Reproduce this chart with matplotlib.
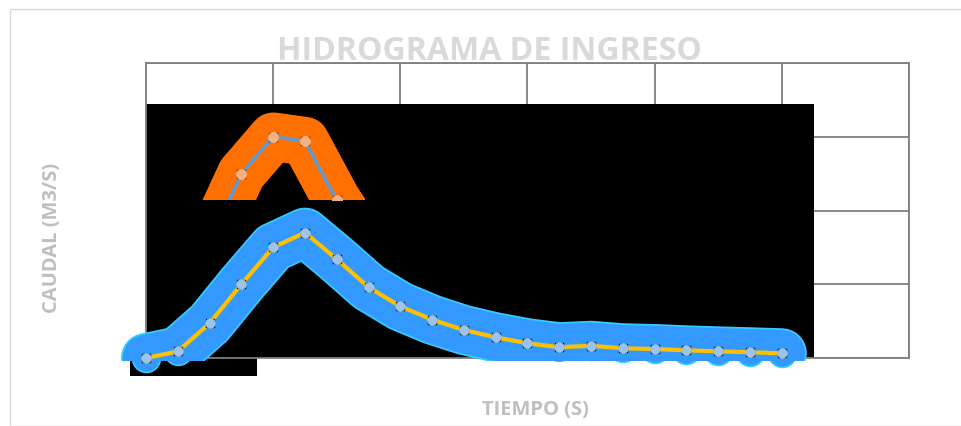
import matplotlib.pyplot as plt
from matplotlib.patches import Rectangle

# datos (tiempo en intervalos, caudal en m3/s)
tiempo = list(range(21))
caudal = [0.0, 0.45, 2.35, 5.0, 7.5, 8.5, 6.7, 4.8, 3.5, 2.6, 1.9,
          1.4, 1.0, 0.73, 0.83, 0.66, 0.61, 0.52, 0.45, 0.39, 0.32]

# serie naranja (solo se ve un trozo)
tiempo_b = [0, 1, 2, 3, 4, 5, 6, 7, 8]
caudal_b = [0.0, 2.5, 7.8, 12.5, 15.0, 14.7, 10.7, 7.5, 5.5]

x_ticks = [0, 4, 8, 12, 16, 20, 24]
y_ticks = [0, 5, 10, 15, 20]

fig = plt.figure(figsize=(9.62, 4.27), dpi=100)
fig.patches.append(Rectangle((10 / 962, 0.0), 1.0, 1 - 10 / 427, transform=fig.transFigure,
                             fill=False, edgecolor="#d9d9d9", linewidth=1.0))

ax = fig.add_axes([146 / 962, 1 - 359 / 427, (909 - 146) / 962, (359 - 64) / 427])
ax.set_xlim(0, 24)
ax.set_ylim(0, 20)
ax.set_xticks(x_ticks)
ax.set_yticks(y_ticks)
ax.tick_params(length=0, labelleft=False, labelbottom=False)
ax.grid(True, color="#7f7f7f", linewidth=1.3)
for s in ax.spines.values():
    s.set_color("#7f7f7f")
    s.set_linewidth(1.3)
ax.set_axisbelow(True)

# fondo negro del area de trazado (artefacto del original)
ax.add_patch(Rectangle((0, 0), 21, 17.2, facecolor="black", edgecolor="none", zorder=1))
ax.add_patch(Rectangle((-0.5, -1.2), 4.0, 1.2, facecolor="black", edgecolor="none",
                       zorder=1, clip_on=False))


def marcadores(x, y, cara, z):
    # circulo con las esquinas negras de seleccion
    ax.plot(x, y, linestyle="none", marker="s", markersize=6, markerfacecolor="none",
            markeredgecolor="black", markeredgewidth=1.0, zorder=z, clip_on=False)
    ax.plot(x, y, linestyle="none", marker="o", markersize=7, markerfacecolor=cara,
            markeredgecolor=cara, markeredgewidth=0.5, zorder=z + 0.1, clip_on=False)


# serie naranja, recortada a una ventana
clip = Rectangle((1.67, 10.7), 5.23, 6.5, transform=ax.transData, visible=False)
ax.add_patch(clip)
glow_b, = ax.plot(tiempo_b, caudal_b, color="#ff7000", linewidth=35,
                  solid_capstyle="round", solid_joinstyle="round", zorder=2)
line_b, = ax.plot(tiempo_b, caudal_b, color="#5b9bd5", linewidth=2.5, zorder=3)
sq_b, = ax.plot(tiempo_b, caudal_b, linestyle="none", marker="s", markersize=6,
                markerfacecolor="none", markeredgecolor="black", markeredgewidth=1.0, zorder=3.1)
mk_b, = ax.plot(tiempo_b, caudal_b, linestyle="none", marker="o", markersize=7,
                markerfacecolor="#f4b183", markeredgecolor="#f4b183", zorder=3.2)
for art in (glow_b, line_b, sq_b, mk_b):
    art.set_clip_path(clip)

# serie principal con brillo azul, cortada un poco bajo el eje
clip2 = Rectangle((-2, -0.2), 28, 25, transform=ax.transData, visible=False)
ax.add_patch(clip2)
g1, = ax.plot(tiempo, caudal, color="#33ccff", linewidth=36, solid_capstyle="round",
              solid_joinstyle="round", zorder=4)
g2, = ax.plot(tiempo, caudal, color="#3399ff", linewidth=33.5, solid_capstyle="round",
              solid_joinstyle="round", zorder=4)
for art in (g1, g2):
    art.set_clip_path(clip2)
ax.plot(tiempo, caudal, linestyle="none", marker="o", markersize=20, markerfacecolor="#3399ff",
        markeredgecolor="#33ccff", markeredgewidth=1.2, zorder=3.9, clip_on=False)
ax.plot(tiempo, caudal, color="#ffc000", linewidth=3, zorder=5, clip_on=False)
marcadores(tiempo, caudal, "#9dc3e6", 6)

fig.text(489 / 962, 1 - 52 / 427, "HIDROGRAMA DE INGRESO", ha="center", va="center",
         fontsize=23, fontweight="bold", color="#d9d9d9", family="Open Sans")
fig.text(52 / 962, 1 - 238 / 427, "CAUDAL (M3/S)", ha="center", va="center", rotation=90,
         fontsize=14.5, fontweight="bold", color="#bfbfbf", family="Open Sans")
fig.text(535 / 962, 1 - 410 / 427, "TIEMPO (S)", ha="center", va="center",
         fontsize=14.5, fontweight="bold", color="#bfbfbf", family="Open Sans")

fig.savefig("out.png", dpi=100)
